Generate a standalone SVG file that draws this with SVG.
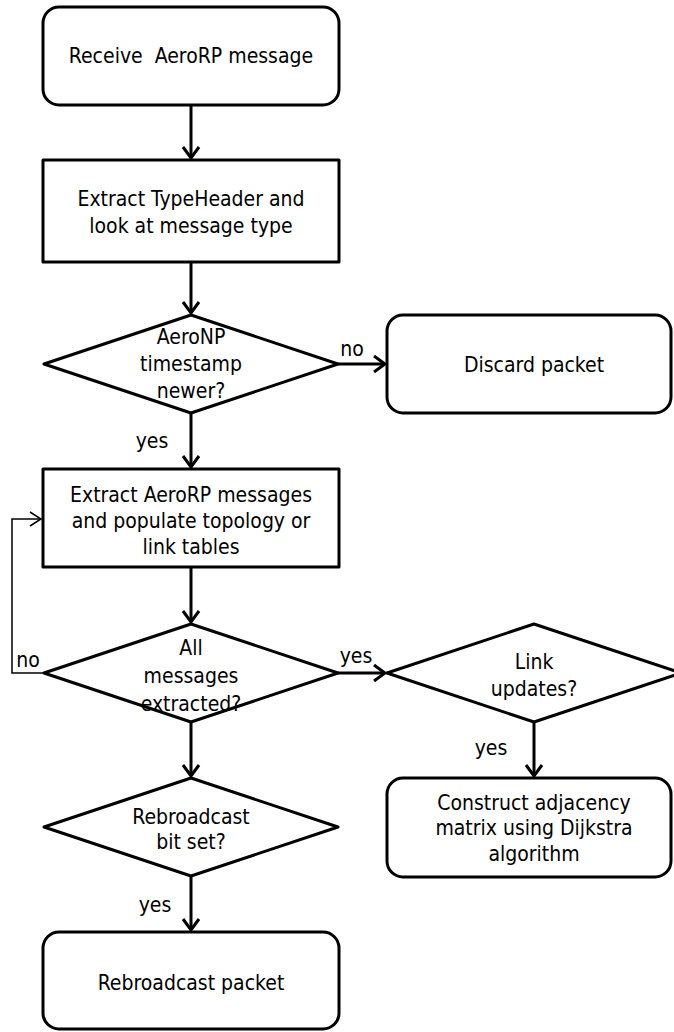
<svg xmlns="http://www.w3.org/2000/svg" width="674" height="1032" viewBox="0 0 674 1032">
  <style>
    .shape { fill: #ffffff; stroke: #000000; stroke-width: 3; stroke-linejoin: round; }
    .conn { fill: none; stroke: #000000; stroke-width: 3; }
    .thin { fill: none; stroke: #000000; stroke-width: 1.5; }
    text { font-family: "DejaVu Sans Condensed", "DejaVu Sans", sans-serif; font-size: 21px; fill: #000000; text-anchor: middle; }
    .pre { white-space: pre; }
  </style>
  <defs>
    <marker id="arrow" markerUnits="userSpaceOnUse" markerWidth="16" markerHeight="20" refX="13" refY="10" orient="auto">
      <path d="M2,2 L13,10 L2,18" fill="none" stroke="#000" stroke-width="3"/>
    </marker>
    <marker id="arrowThin" markerUnits="userSpaceOnUse" markerWidth="16" markerHeight="20" refX="13" refY="10" orient="auto">
      <path d="M2,3 L13,10 L2,17" fill="none" stroke="#000" stroke-width="1.5"/>
    </marker>
  </defs>

  <g id="connectors">
    <line class="conn" x1="191" y1="105" x2="191" y2="158" marker-end="url(#arrow)"/>
    <line class="conn" x1="191" y1="262" x2="191" y2="313" marker-end="url(#arrow)"/>
    <line class="conn" x1="338" y1="364" x2="385" y2="364" marker-end="url(#arrow)"/>
    <line class="conn" x1="191" y1="413" x2="191" y2="467" marker-end="url(#arrow)"/>
    <line class="conn" x1="191" y1="567" x2="191" y2="622" marker-end="url(#arrow)"/>
    <polyline class="thin" points="44,673 12,673 12,519 41,519" marker-end="url(#arrowThin)"/>
    <line class="conn" x1="338" y1="673" x2="385" y2="673" marker-end="url(#arrow)"/>
    <line class="conn" x1="534" y1="722" x2="534" y2="776" marker-end="url(#arrow)"/>
    <line class="conn" x1="191" y1="722" x2="191" y2="776" marker-end="url(#arrow)"/>
    <line class="conn" x1="191" y1="876" x2="191" y2="930" marker-end="url(#arrow)"/>
    <text x="352" y="356">no</text>
    <text x="152" y="448">yes</text>
    <text x="28" y="667">no</text>
    <text x="356" y="663">yes</text>
    <text x="491" y="755">yes</text>
    <text x="155" y="912">yes</text>
  </g>

  <g id="n-receive">
    <rect class="shape" x="43" y="7" width="296" height="98" rx="16" ry="16"/>
    <text class="pre" x="191" y="63">Receive  AeroRP message</text>
  </g>

  <g id="n-extract-type">
    <rect class="shape" x="43" y="160" width="296" height="102"/>
    <text x="191" y="206">Extract TypeHeader and</text>
    <text x="191" y="233">look at message type</text>
  </g>

  <g id="d-timestamp">
    <polygon class="shape" points="191,315 338,364 191,413 44,364"/>
    <text x="191" y="344">AeroNP</text>
    <text x="191" y="371">timestamp</text>
    <text x="191" y="398">newer?</text>
  </g>

  <g id="n-discard">
    <rect class="shape" x="387" y="315" width="284" height="98" rx="16" ry="16"/>
    <text x="534" y="372">Discard packet</text>
  </g>

  <g id="n-extract-aerorp">
    <rect class="shape" x="43" y="469" width="296" height="98"/>
    <text x="191" y="502">Extract AeroRP messages</text>
    <text x="191" y="528">and populate topology or</text>
    <text x="191" y="554">link tables</text>
  </g>

  <g id="d-all-extracted">
    <polygon class="shape" points="191,624 338,673 191,722 44,673"/>
    <text x="191" y="655">All</text>
    <text x="191" y="683">messages</text>
    <text x="191" y="711">extracted?</text>
  </g>

  <g id="d-link-updates">
    <polygon class="shape" points="534,624 681,673 534,722 387,673"/>
    <text x="534" y="669">Link</text>
    <text x="534" y="696">updates?</text>
  </g>

  <g id="n-construct">
    <rect class="shape" x="387" y="778" width="284" height="99" rx="16" ry="16"/>
    <text x="534" y="810">Construct adjacency</text>
    <text x="534" y="835">matrix using Dijkstra</text>
    <text x="534" y="861">algorithm</text>
  </g>

  <g id="d-rebroadcast">
    <polygon class="shape" points="191,778 338,827 191,876 44,827"/>
    <text x="191" y="824">Rebroadcast</text>
    <text x="191" y="849">bit set?</text>
  </g>

  <g id="n-rebroadcast-packet">
    <rect class="shape" x="43" y="932" width="296" height="97" rx="16" ry="16"/>
    <text x="191" y="990">Rebroadcast packet</text>
  </g>
</svg>
